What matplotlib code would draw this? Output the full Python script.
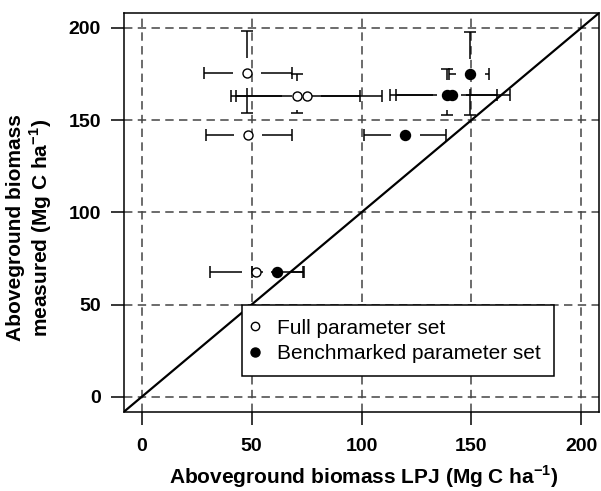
import matplotlib
matplotlib.use('Agg')
import matplotlib.pyplot as plt
from matplotlib.lines import Line2D

plt.rcParams['font.family'] = ['Liberation Sans', 'DejaVu Sans']
plt.rcParams['mathtext.fontset'] = 'custom'
plt.rcParams['mathtext.rm'] = 'Liberation Sans'
plt.rcParams['mathtext.bf'] = 'Liberation Sans:bold'

# full parameter set (open circles): point, x range, y range
full_x = [48.0, 70.5, 75.0, 48.3, 52.2]
full_y = [175.5, 163.3, 163.3, 142.0, 67.6]
full_xlo = [28.5, 40.8, 43.0, 29.4, 30.9]
full_xhi = [68.5, 99.3, 109.2, 68.2, 73.5]
full_ylo = [154.0, 154.0, 163.3, 142.0, 67.6]
full_yhi = [198.0, 175.0, 163.3, 142.0, 67.6]

# benchmarked parameter set (filled circles)
bench_x = [149.5, 138.8, 141.0, 120.0, 61.6]
bench_y = [175.0, 163.5, 163.5, 142.0, 67.6]
bench_xlo = [139.6, 113.0, 115.5, 101.0, 50.0]
bench_xhi = [158.0, 161.5, 167.7, 138.5, 74.0]
bench_ylo = [153.0, 153.0, 163.5, 142.0, 67.6]
bench_yhi = [197.5, 177.5, 163.5, 142.0, 67.6]

ticks = [0, 50, 100, 150, 200]
lims = (-8, 208)

# gap left around each point, like plotCI
gap_x = 6.5
gap_y = 8.0

fig = plt.figure(figsize=(6.01, 4.91), dpi=100)
ax = fig.add_axes([124 / 601, 1 - 411.7 / 491, 475 / 601, 398.7 / 491])


def draw_ci(ax, x, y, xlo, xhi, ylo, yhi):
    kw = dict(color='black', lw=1.1, zorder=3, solid_capstyle='butt')
    ck = dict(color='black', ls='none', ms=8.5, mew=1.1, zorder=3)
    for xi, yi, a, b, c, d in zip(x, y, xlo, xhi, ylo, yhi):
        if xi - a > gap_x:
            ax.plot([a, xi - gap_x], [yi, yi], **kw)
            ax.plot([a], [yi], marker='|', **ck)
        if b - xi > gap_x:
            ax.plot([xi + gap_x, b], [yi, yi], **kw)
            ax.plot([b], [yi], marker='|', **ck)
        if yi - c > gap_y:
            ax.plot([xi, xi], [c, yi - gap_y], **kw)
            ax.plot([xi], [c], marker='_', **ck)
        if d - yi > gap_y:
            ax.plot([xi, xi], [yi + gap_y, d], **kw)
            ax.plot([xi], [d], marker='_', **ck)


draw_ci(ax, full_x, full_y, full_xlo, full_xhi, full_ylo, full_yhi)
draw_ci(ax, bench_x, bench_y, bench_xlo, bench_xhi, bench_ylo, bench_yhi)

ax.plot(full_x, full_y, 'o', ms=6.5, mfc='white', mec='black', mew=1.0, zorder=4)
ax.plot(bench_x, bench_y, 'o', ms=7.2, mfc='black', mec='black', zorder=4)

ax.axline((0, 0), slope=1, color='black', lw=1.6, zorder=2)

ax.set_xlim(lims)
ax.set_ylim(lims)
ax.set_xticks(ticks)
ax.set_yticks(ticks)
ax.grid(True, color='#444444', lw=1.1, ls=(0, (5.5, 3.5)), zorder=1)
ax.set_axisbelow(True)

for s in ax.spines.values():
    s.set_linewidth(1.1)
ax.tick_params(direction='out', length=9.5, width=1.1, pad=7, labelsize=14)
ax.tick_params(axis='x', pad=9.5)
for lab in ax.get_xticklabels() + ax.get_yticklabels():
    lab.set_fontweight('bold')

handles = [
    Line2D([], [], marker='o', ls='none', ms=6, mfc='white', mec='black', mew=1.0),
    Line2D([], [], marker='o', ls='none', ms=6.5, mfc='black', mec='black'),
]
leg = ax.legend(handles, ['Full parameter set', 'Benchmarked parameter set'],
                loc='upper left', bbox_to_anchor=(0.2478, 0.2676),
                borderaxespad=0, fontsize=15, frameon=True, fancybox=False,
                framealpha=1, edgecolor='black', handlelength=0.0,
                handletextpad=1.05, labelspacing=0.3, borderpad=0.65)
leg.get_frame().set_linewidth(1.1)
leg.set_zorder(5)

fig.text(364 / 601, 1 - 477 / 491, 'Aboveground biomass LPJ (Mg C ha$^{\\mathbf{-1}}$)',
         ha='center', va='center', fontsize=15, fontweight='bold')
fig.text(30 / 601, 1 - 228 / 491, 'Aboveground biomass\nmeasured (Mg C ha$^{\\mathbf{-1}}$)',
         ha='center', va='center', rotation=90, fontsize=15, fontweight='bold',
         multialignment='center', linespacing=1.1)

fig.savefig('out.png', dpi=100)
